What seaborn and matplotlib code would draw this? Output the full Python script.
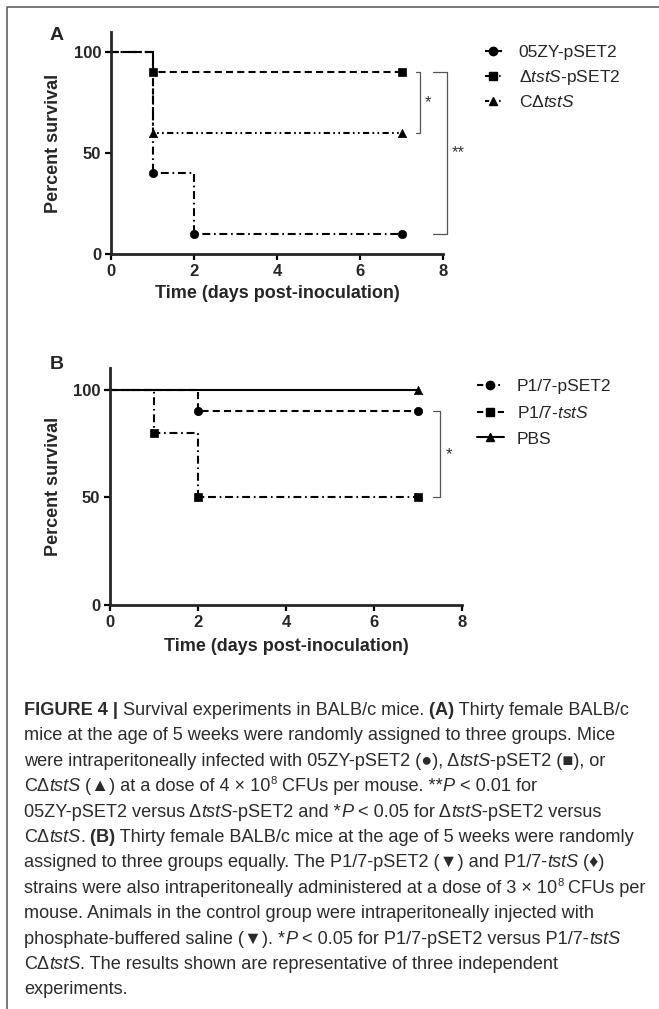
"""
Survival curves (Figure 4): two Kaplan-Meier style panels plus caption.
"""
import matplotlib
matplotlib.use("Agg")
import matplotlib.pyplot as plt
import seaborn as sns
from matplotlib.lines import Line2D
from matplotlib.transforms import IdentityTransform

# ------------------------------------------------------------------
# Data (percent survival at each event time)
# ------------------------------------------------------------------
a_labels = ["05ZY-pSET2", r"Δ$\mathit{tstS}$-pSET2", r"CΔ$\mathit{tstS}$"]
a_days = [[0, 1, 2, 7], [0, 1, 7], [0, 1, 7]]
a_surv = [[100, 40, 10, 10], [100, 90, 90], [100, 60, 60]]

b_labels = ["P1/7-pSET2", r"P1/7-$\mathit{tstS}$", "PBS"]
b_days = [[0, 2, 7], [0, 1, 2, 7], [0, 7]]
b_surv = [[100, 90, 90], [100, 80, 50, 50], [100, 100]]

markers = ["o", "s", "^"]
x_ticks = [0, 2, 4, 6, 8]
y_ticks = [0, 50, 100]

# significance brackets: (x_left, x_right, y_top, y_bottom, label)
a_sig = [(7.35, 7.45, 90, 60, "*"), (7.76, 8.1, 90, 10, "**")]
b_sig = [(7.34, 7.5, 90, 50, "*")]

caption = [
    [("FIGURE 4 |", "b"), (" Survival experiments in BALB/c mice.", "n"), (" (A)", "b"),
     (" Thirty female BALB/c", "n")],
    [("mice at the age of 5 weeks were randomly assigned to three groups. Mice", "n")],
    [("were intraperitoneally infected with 05ZY-pSET2 (●), Δ", "n"), ("tstS", "i"),
     ("-pSET2 (■), or", "n")],
    [("CΔ", "n"), ("tstS", "i"), (" (▲) at a dose of 4 × 10", "n"), ("8", "sup"),
     (" CFUs per mouse. **", "n"), ("P", "i"), (" < 0.01 for", "n")],
    [("05ZY-pSET2 versus Δ", "n"), ("tstS", "i"), ("-pSET2 and *", "n"), ("P", "i"),
     (" < 0.05 for Δ", "n"), ("tstS", "i"), ("-pSET2 versus", "n")],
    [("CΔ", "n"), ("tstS", "i"), (".", "n"), (" (B)", "b"),
     (" Thirty female BALB/c mice at the age of 5 weeks were randomly", "n")],
    [("assigned to three groups equally. The P1/7-pSET2 (▼) and P1/7-", "n"), ("tstS", "i"),
     (" (♦)", "n")],
    [("strains were also intraperitoneally administered at a dose of 3 × 10", "n"), ("8", "sup"),
     (" CFUs per", "n")],
    [("mouse. Animals in the control group were intraperitoneally injected with", "n")],
    [("phosphate-buffered saline (▼). *", "n"), ("P", "i"),
     (" < 0.05 for P1/7-pSET2 versus P1/7-", "n"), ("tstS", "i")],
    [("CΔ", "n"), ("tstS", "i"), (". The results shown are representative of three independent", "n")],
    [("experiments.", "n")],
]

# ------------------------------------------------------------------
# Style
# ------------------------------------------------------------------
sns.set_style("ticks")
fonts = ["Liberation Sans", "DejaVu Sans"]
plt.rcParams["font.family"] = fonts
plt.rcParams["mathtext.fontset"] = "custom"
plt.rcParams["mathtext.rm"] = "Liberation Sans"
plt.rcParams["mathtext.it"] = "Liberation Sans:italic"
plt.rcParams["mathtext.bf"] = "Liberation Sans:bold"

dashed = (0, (3.4, 2.0))
dashdot = (0, (3.8, 1.8, 0.8, 1.8))
dashdotdot = (0, (3.0, 1.6, 0.8, 1.6, 0.8, 1.6))
a_styles = [dashdot, dashed, dashdotdot]
b_styles = [dashed, dashdot, "-"]
# short legend keys: "-o-", "-o.", "-o." (A) and "-o.", "-o-", solid (B)
a_keys = [(0, (2.0, 4.0, 3.0, 1.0)), (0, (2.0, 4.8, 0.7, 2.0)), (0, (2.0, 4.8, 0.7, 2.0))]
b_keys = [(0, (3.0, 7.2, 0.8, 3.0)), (0, (3.0, 7.0, 3.0, 1.0)), "-"]

W, H = 659, 1009
fig = plt.figure(figsize=(W / 100, H / 100), dpi=100)


def px_axes(left, right, top, bottom):
    return fig.add_axes([left / W, 1 - bottom / H, (right - left) / W, (bottom - top) / H])


def survival_panel(ax, days, surv, styles, keys, sig):
    handles = []
    for d, s, ls, k, m in zip(days, surv, styles, keys, markers):
        sns.lineplot(x=d, y=s, ax=ax, color="black", lw=1.5, linestyle=ls,
                     drawstyle="steps-post", estimator=None, clip_on=False)
        sns.scatterplot(x=d[1:], y=s[1:], ax=ax, color="black", marker=m, s=36,
                        edgecolor="black", linewidth=0.5, zorder=5, clip_on=False)
        handles.append(Line2D([], [], color="black", lw=1.5, linestyle=k, marker=m,
                              markersize=6))
    for x0, x1, y0, y1, lab in sig:
        ax.plot([x0, x1, x1, x0], [y0, y0, y1, y1], color="#555555", lw=0.9, clip_on=False)
        ax.text(x1 + 0.12, (y0 + y1) / 2, lab, ha="left", va="center", fontsize=12,
                color="#333333")
    ax.set_xlim(0, 8)
    ax.set_ylim(0, 110)
    ax.set_xticks(x_ticks)
    ax.set_yticks(y_ticks)
    ax.tick_params(length=4.5, width=1.6, labelsize=12, pad=2.5, color="black")
    for lbl in ax.get_xticklabels() + ax.get_yticklabels():
        lbl.set_fontweight("bold")
    for sp in ["left", "bottom"]:
        ax.spines[sp].set_linewidth(2.0)
    sns.despine(ax=ax)
    ax.set_xlabel("Time (days post-inoculation)", fontsize=13, fontweight="bold")
    ax.set_ylabel("Percent survival", fontsize=13, fontweight="bold")
    return handles


ax_a = px_axes(111, 443, 32, 254)
h_a = survival_panel(ax_a, a_days, a_surv, a_styles, a_keys, a_sig)
ax_a.legend(h_a, a_labels, loc="upper left", bbox_to_anchor=(476 / W, 1 - 36 / H),
            bbox_transform=fig.transFigure, frameon=False, fontsize=12.5,
            handlelength=1.0, handletextpad=0.95, labelspacing=0.45, borderpad=0)
ax_a.yaxis.set_label_coords(-0.148, 0.5)
ax_a.xaxis.set_label_coords(0.5, -0.14)

ax_b = px_axes(110, 462, 368, 605)
h_b = survival_panel(ax_b, b_days, b_surv, b_styles, b_keys, b_sig)
ax_b.legend(h_b, b_labels, loc="upper left", bbox_to_anchor=(468 / W, 1 - 370 / H),
            bbox_transform=fig.transFigure, frameon=False, fontsize=12.5,
            handlelength=1.55, handletextpad=0.75, labelspacing=0.62, borderpad=0)
ax_b.yaxis.set_label_coords(-0.136, 0.5)
ax_b.xaxis.set_label_coords(0.5, -0.14)

fig.text(57 / W, 1 - 35 / H, "A", fontsize=14, fontweight="bold", ha="center", va="center")
fig.text(57 / W, 1 - 365 / H, "B", fontsize=14, fontweight="bold", ha="center", va="center")

# frame (top and left edges)
fig.add_artist(Line2D([7 / W, 7 / W, 1], [0, 1 - 7 / H, 1 - 7 / H], color="#555555", lw=1.1))

# ------------------------------------------------------------------
# Caption, drawn run by run so bold/italic pieces line up
# ------------------------------------------------------------------
renderer = fig.canvas.get_renderer()
cap_fs = 13.1
cap_color = "#2b2b2b"
y_px = H - 715
for line in caption:
    x_px = 24
    for txt, st in line:
        kw = dict(fontsize=cap_fs, color=cap_color, family=fonts, va="baseline", ha="left",
                  transform=IdentityTransform())
        yy = y_px
        if st == "b":
            kw["fontweight"] = "bold"
        elif st == "i":
            kw["fontstyle"] = "italic"
        elif st == "sup":
            kw["fontsize"] = cap_fs * 0.62
            yy = y_px + 7
        t = fig.text(x_px, yy, txt, **kw)
        x_px += t.get_window_extent(renderer).width
    y_px -= 25.4

fig.savefig("out.png", dpi=100)
